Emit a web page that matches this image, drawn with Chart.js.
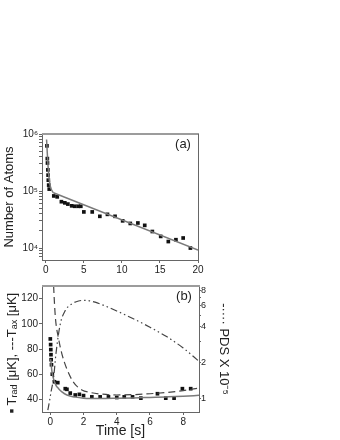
<!DOCTYPE html>
<html><head><meta charset="utf-8">
<script src="https://cdn.jsdelivr.net/npm/chart.js@4.4.1/dist/chart.umd.min.js"></script>
<style>
html,body{margin:0;padding:0;background:#fff;width:340px;height:440px;overflow:hidden}
#ca{position:absolute;left:0;top:0}
#cb{position:absolute;left:0;top:275px}
</style></head><body>
<canvas id="ca" width="340" height="275"></canvas>
<canvas id="cb" width="340" height="165"></canvas>
<script>
// ---------- Panel (a): number of atoms ----------
const atomsTime  = [0.15, 0.2, 0.22, 0.27, 0.3, 0.33, 0.38, 0.45, 1.05, 1.5, 2.05, 2.5, 2.9, 3.4, 3.8, 4.25, 4.6, 5.0, 6.1, 7.1, 8.1, 9.1, 10.1, 11.1, 12.1, 13.0, 14.0, 15.1, 16.1, 17.1, 18.05, 19.0];
const atomsCount = [6.2e5, 3.7e5, 3.1e5, 2.35e5, 1.9e5, 1.55e5, 1.27e5, 1.08e5, 8.2e4, 7.9e4, 6.5e4, 6.2e4, 5.9e4, 5.5e4, 5.4e4, 5.4e4, 5.4e4, 4.3e4, 4.3e4, 3.6e4, 3.9e4, 3.6e4, 3.0e4, 2.7e4, 2.75e4, 2.5e4, 1.95e4, 1.6e4, 1.3e4, 1.4e4, 1.5e4, 1.0e4];
// fast initial decay of the fit
const atomsFitFastTime  = [0.1, 0.2, 0.3, 0.45, 0.6, 0.8, 1.0];
const atomsFitFastCount = [8.0e5, 4.5e5, 2.7e5, 1.6e5, 1.2e5, 1.02e5, 9.3e4];
// slow exponential tail of the fit (straight on a log axis)
const atomsFitSlowTime  = [1.0, 20];
const atomsFitSlowCount = [9.3e4, 9.2e3];
const atomsXTicks = [0, 5, 10, 15, 20];
const atomsYDecades = [1e4, 1e5, 1e6];
const atomsYLabels = ['10\u2074', '10\u2075', '10\u2076'];

// ---------- Panel (b): temperatures and PDS ----------
const tempTime = [0.0, 0.02, 0.03, 0.04, 0.05, 0.07, 0.12, 0.25, 0.45, 0.9, 1.0, 1.2, 1.5, 1.75, 2.0, 2.5, 3.0, 3.5, 4.0, 4.45, 4.95, 5.45, 6.45, 6.95, 7.45, 7.95, 8.45];
const tempRad  = [88, 83.5, 79.5, 75.5, 71.5, 67.5, 60, 54, 53.3, 48.5, 48, 45, 43.5, 44, 43, 42, 42, 42, 41.5, 42, 42, 41, 44.5, 41, 41, 48.5, 48.5];
const radFitTime  = [0.02, 0.1, 0.2, 0.35, 0.5, 0.7, 1.0, 1.5, 2, 3, 4, 5, 6, 7, 8, 8.95];
const radFitValue = [72, 62, 56, 51, 48.5, 46, 43.5, 41.8, 41, 40.7, 40.9, 41.2, 41.6, 42, 42.5, 43.2];
const axFitTime  = [0.1, 0.2, 0.3, 0.5, 0.7, 1.0, 1.4, 1.9, 2.4, 3, 4, 5, 6, 7, 8, 8.95];
const axFitValue = [165, 130, 106, 88, 76, 64, 53.5, 47.5, 45.5, 44.3, 43.5, 43.8, 44.5, 45.5, 47, 49];
const pdsTime  = [-0.15, -0.05, 0.05, 0.2, 0.34, 0.6, 0.9, 1.3, 1.7, 2.1, 2.7, 3.3, 4, 5, 6, 7, 8, 8.95];
const pdsValue = [0.8, 0.95, 1.15, 1.5, 2.38, 4.2, 5.45, 6.2, 6.55, 6.64, 6.4, 5.95, 5.4, 4.65, 3.95, 3.3, 2.65, 2.05];
const timeXTicks = [0, 2, 4, 6, 8];
const tempYTicks = [40, 60, 80, 100, 120];
const pdsTicks = [1, 2, 3, 4, 5, 6, 7, 8];
const pdsLabels = ['1', '2', '', '4', '', '6', '', '8'];

const FONT = '"Liberation Sans", Arial, sans-serif';
const TXT = '#222';
const AX = '#666';

function xy(xs, ys) { return xs.map((x, i) => ({x: x, y: ys[i]})); }
function setTicks(vals) { return function (s) { s.ticks = vals.map(v => ({value: v})); }; }

const framePlugin = {
  id: 'frame',
  afterDraw(chart, args, o) {
    const {ctx, chartArea: {left, right, top, bottom}} = chart;
    ctx.save();
    ctx.strokeStyle = '#9c9c9c'; ctx.lineWidth = 2;
    ctx.beginPath(); ctx.moveTo(left, top); ctx.lineTo(right + 1, top); ctx.stroke();
    if (o.rightBorder) {
      ctx.strokeStyle = AX; ctx.lineWidth = 1;
      ctx.beginPath(); ctx.moveTo(right + 0.5, top); ctx.lineTo(right + 0.5, bottom); ctx.stroke();
    }
    ctx.fillStyle = TXT; ctx.font = '13px ' + FONT;
    ctx.textAlign = 'center'; ctx.textBaseline = 'middle';
    ctx.fillText(o.label, right - 15, top + 10);
    if (o.leftTitle) {
      const parts = [['\u25A0', 7, 0], [' T', 13, 0], ['rad', 9, 3], [' [\u03BCK], ---T', 13, 0], ['ax', 9, 3], [' [\u03BCK]', 13, 0]];
      let total = 0;
      parts.forEach(p => { ctx.font = p[1] + 'px ' + FONT; p.push(ctx.measureText(p[0]).width); total += p[3]; });
      ctx.translate(12, (top + bottom) / 2 + 4);
      ctx.rotate(-Math.PI / 2);
      ctx.textAlign = 'left';
      let x = -total / 2;
      parts.forEach(p => { ctx.font = p[1] + 'px ' + FONT; ctx.fillText(p[0], x, p[2]); x += p[3]; });
    }
    ctx.restore();
  }
};

const tickFont = {family: FONT, size: 10};
const titleFont = {family: FONT, size: 13};

new Chart(document.getElementById('ca'), {
  type: 'scatter',
  data: {
    datasets: [
      {data: xy(atomsFitFastTime, atomsFitFastCount), showLine: true, borderColor: '#7a7a7a', borderWidth: 1.5, pointRadius: 0, cubicInterpolationMode: 'monotone'},
      {data: xy(atomsFitSlowTime, atomsFitSlowCount), showLine: true, borderColor: '#7a7a7a', borderWidth: 1.5, pointRadius: 0, tension: 0},
      {data: xy(atomsTime, atomsCount), pointStyle: 'rect', pointRadius: 2.6, backgroundColor: '#111', borderColor: '#111', borderWidth: 0}
    ]
  },
  options: {
    responsive: false, animation: false,
    layout: {padding: {top: 134, right: 142, left: 0, bottom: 0}},
    plugins: {legend: {display: false}, tooltip: {enabled: false}, frame: {label: '(a)', rightBorder: true}},
    scales: {
      x: {type: 'linear', min: -0.5, max: 20,
        afterFit(s) { s.height = 15; }, afterBuildTicks: setTicks(atomsXTicks),
        grid: {display: true, drawOnChartArea: false, tickLength: 3, tickColor: AX},
        border: {display: true, color: AX},
        ticks: {font: tickFont, color: TXT, padding: 1, maxRotation: 0}},
      y: {type: 'logarithmic', min: 6170, max: 1e6,
        afterFit(s) { s.width = 42; },
        afterBuildTicks(s) {
          const t = [];
          [1e3, 1e4, 1e5].forEach(d => { for (let k = 1; k < 10; k++) { const v = d * k; if (v >= 6170) t.push({value: v}); } });
          t.push({value: 1e6});
          s.ticks = t;
        },
        grid: {display: true, drawOnChartArea: false, tickLength: 3, tickColor: AX},
        border: {display: true, color: AX},
        ticks: {font: tickFont, color: TXT, padding: 1, autoSkip: false,
          callback(v) { const i = atomsYDecades.indexOf(v); return i >= 0 ? atomsYLabels[i] : ''; }},
        title: {display: true, text: 'Number of Atoms', font: titleFont, color: TXT, padding: {top: 2, bottom: 0}}}
    }
  },
  plugins: [framePlugin]
});

new Chart(document.getElementById('cb'), {
  type: 'scatter',
  data: {
    datasets: [
      {data: xy(pdsTime, pdsValue), yAxisID: 'y2', showLine: true, borderColor: '#444', borderWidth: 1.2, borderDash: [7, 3, 1.5, 3, 1.5, 3], pointRadius: 0, cubicInterpolationMode: 'monotone'},
      {data: xy(axFitTime, axFitValue), showLine: true, borderColor: '#444', borderWidth: 1.2, borderDash: [7, 4], pointRadius: 0, cubicInterpolationMode: 'monotone'},
      {data: xy(radFitTime, radFitValue), showLine: true, borderColor: '#7a7a7a', borderWidth: 1.5, pointRadius: 0, cubicInterpolationMode: 'monotone'},
      {data: xy(tempTime, tempRad), pointStyle: 'rect', pointRadius: 2.6, backgroundColor: '#111', borderColor: '#111', borderWidth: 0}
    ]
  },
  options: {
    responsive: false, animation: false,
    layout: {padding: {top: 11, right: 107, left: 0, bottom: 0}},
    plugins: {legend: {display: false}, tooltip: {enabled: false}, frame: {label: '(b)', rightBorder: false, leftTitle: true}},
    scales: {
      x: {type: 'linear', min: -0.5, max: 8.95,
        afterFit(s) { s.height = 28; }, afterBuildTicks: setTicks(timeXTicks),
        grid: {display: true, drawOnChartArea: false, tickLength: 3, tickColor: AX},
        border: {display: true, color: AX},
        ticks: {font: tickFont, color: TXT, padding: 1, maxRotation: 0},
        title: {display: true, text: 'Time [s]', font: {family: FONT, size: 14}, color: TXT, padding: {top: 0, bottom: 0}}},
      y: {type: 'linear', min: 30, max: 130,
        afterFit(s) { s.width = 42; }, afterBuildTicks: setTicks(tempYTicks),
        grid: {display: true, drawOnChartArea: false, tickLength: 3, tickColor: AX},
        border: {display: true, color: AX},
        ticks: {font: tickFont, color: TXT, padding: 1}},
      y2: {type: 'logarithmic', position: 'right', min: 0.773, max: 8.74,
        afterFit(s) { s.width = 34; }, afterBuildTicks: setTicks(pdsTicks),
        grid: {display: true, drawOnChartArea: false, tickLength: 2, tickColor: AX},
        border: {display: true, color: AX},
        ticks: {font: {family: FONT, size: 9}, color: TXT, padding: 0, autoSkip: false,
          callback(v) { const i = pdsTicks.indexOf(v); return i >= 0 ? pdsLabels[i] : ''; }},
        title: {display: true, text: '-\u00B7\u00B7\u00B7\u00B7 PDS X 10\u207B\u2075', font: titleFont, color: TXT, padding: {top: 2, bottom: 0}}}
    }
  },
  plugins: [framePlugin]
});
</script>
</body></html>
